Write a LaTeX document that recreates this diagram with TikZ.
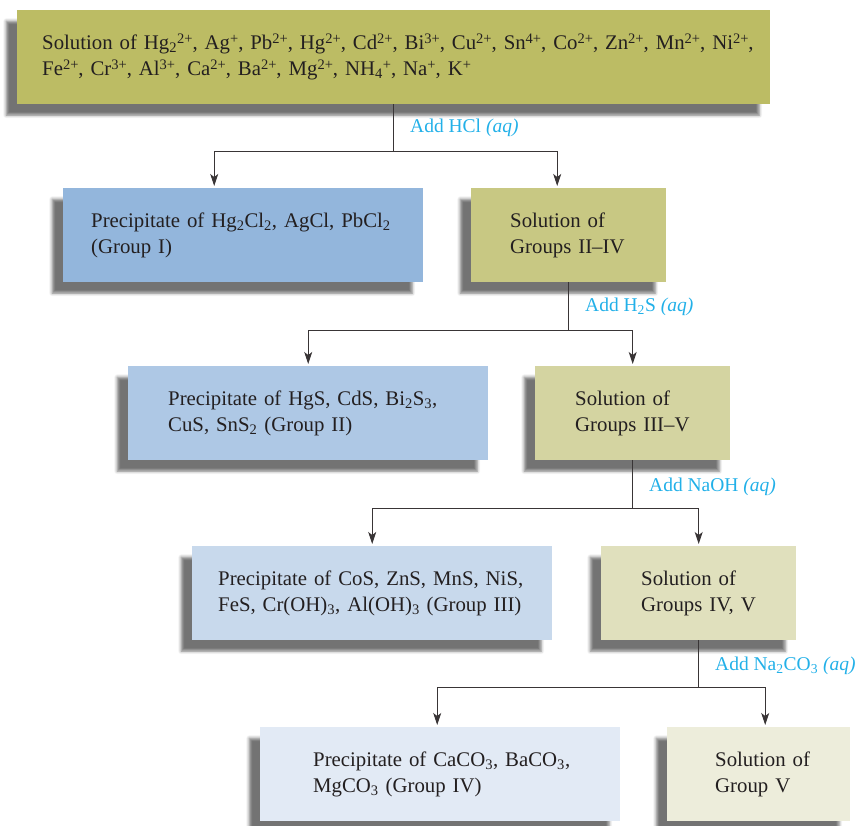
\documentclass[tikz,border=0pt]{standalone}
\usepackage{fontspec}
\setmainfont{Liberation Serif}
\usepackage{tikz}
\usetikzlibrary{arrows.meta, positioning, shadows.blur}
\definecolor{mSolA}{HTML}{BCBC64}
\definecolor{mSolB}{HTML}{C8C883}
\definecolor{mSolC}{HTML}{D4D4A1}
\definecolor{mSolD}{HTML}{E0E0BD}
\definecolor{mSolE}{HTML}{EDEDDB}
\definecolor{mPptA}{HTML}{93B6DC}
\definecolor{mPptB}{HTML}{AEC8E5}
\definecolor{mPptC}{HTML}{C8D9EC}
\definecolor{mPptD}{HTML}{E2EAF5}
\definecolor{mInk}{HTML}{231F20}
\definecolor{mCyan}{HTML}{22B0E8}
\newcommand{\ionup}[1]{\raisebox{0.62ex}{\fontsize{14.5}{14.5}\selectfont #1}}
\newcommand{\iondn}[1]{\textsubscript{#1}}

\begin{document}
\begin{tikzpicture}[x=1pt, y=-1pt,
      >={Stealth[length=12pt, width=8pt, inset=3pt]},
      box/.style={rectangle, anchor=north west, minimum height=94pt, inner xsep=0pt,
        align=left, text=mInk, font=\fontsize{20.8}{26}\selectfont,
        blur shadow={shadow xshift=-11pt, shadow yshift=-11pt, shadow blur radius=3pt, shadow opacity=55}},
      pad/.style={execute at begin node={\leftskip=#1pt}},
      add/.style={anchor=west, inner sep=0pt, text=mCyan, font=\fontsize{19.5}{22}\selectfont},
      link/.style={draw=mInk!90, line width=1pt},
      tip/.style={->, shorten >=2pt}]
    \useasboundingbox (0,0) rectangle (859,826);
    % boxes
    \node[box, fill=mSolA, text width=753pt, pad=25] (ions) at (17,10)
      {Solution of Hg\iondn{2}\ionup{2+}, Ag\ionup{+}, Pb\ionup{2+}, Hg\ionup{2+}, Cd\ionup{2+}, Bi\ionup{3+}, Cu\ionup{2+}, Sn\ionup{4+}, Co\ionup{2+}, Zn\ionup{2+}, Mn\ionup{2+}, Ni\ionup{2+},\\
       Fe\ionup{2+}, Cr\ionup{3+}, Al\ionup{3+}, Ca\ionup{2+}, Ba\ionup{2+}, Mg\ionup{2+}, NH\iondn{4}\ionup{+}, Na\ionup{+}, K\ionup{+}};
    \node[box, fill=mPptA, text width=360pt, pad=28] (grpI) at (63,188)
      {Precipitate of Hg\iondn{2}Cl\iondn{2}, AgCl, PbCl\iondn{2}\\(Group I)};
    \node[box, fill=mSolB, text width=195pt, pad=39] (solII) at (471,188)
      {Solution of\\Groups II--IV};
    \node[box, fill=mPptB, text width=360pt, pad=40] (grpII) at (128,366)
      {Precipitate of HgS, CdS, Bi\iondn{2}S\iondn{3},\\CuS, SnS\iondn{2} (Group II)};
    \node[box, fill=mSolC, text width=195pt, pad=40] (solIII) at (535,366)
      {Solution of\\Groups III--V};
    \node[box, fill=mPptC, text width=360pt, pad=26] (grpIII) at (192,546)
      {Precipitate of CoS, ZnS, MnS, NiS,\\FeS, Cr(OH)\iondn{3}, Al(OH)\iondn{3} (Group III)};
    \node[box, fill=mSolD, text width=195pt, pad=40] (solIV) at (601,546)
      {Solution of\\Groups IV, V};
    \node[box, fill=mPptD, text width=360pt, pad=53] (grpIV) at (260,727)
      {Precipitate of CaCO\iondn{3}, BaCO\iondn{3},\\MgCO\iondn{3} (Group IV)};
    \node[box, fill=mSolE, text width=183pt, pad=48] (solV) at (667,727)
      {Solution of\\Group V};
    % splits
    \coordinate (j1) at (ions.south |- 0,152);
    \coordinate (j2) at (solII.south |- 0,330);
    \coordinate (j3) at (solIII.south |- 0,508);
    \coordinate (j4) at (solIV.south |- 0,687);
    \draw[link] (ions.south) -- (j1);
    \draw[link, tip] (j1) -| ([xshift=-29pt]grpI.north);
    \draw[link, tip] (j1) -| ([xshift=-11.5pt]solII.north);
    \draw[link] (solII.south) -- (j2);
    \draw[link, tip] (j2) -| (grpII.north);
    \draw[link, tip] (j2) -| (solIII.north);
    \draw[link] (solIII.south) -- (j3);
    \draw[link, tip] (j3) -| (grpIII.north);
    \draw[link, tip] (j3) -| (solIV.north);
    \draw[link] (solIV.south) -- (j4);
    \draw[link, tip] (j4) -| ([xshift=-3pt]grpIV.north);
    \draw[link, tip] (j4) -| ([xshift=6.5pt]solV.north);
    % reagents
    \node[add] (hcl) at (410,128) {Add HCl \textit{(aq)}};
    \node[add] (hs) at (585,307) {Add H\iondn{2}S \textit{(aq)}};
    \node[add] (naoh) at (649,487) {Add NaOH \textit{(aq)}};
    \node[add] (naco) at (715,666) {Add Na\iondn{2}CO\iondn{3} \textit{(aq)}};
  \end{tikzpicture}
\end{document}
